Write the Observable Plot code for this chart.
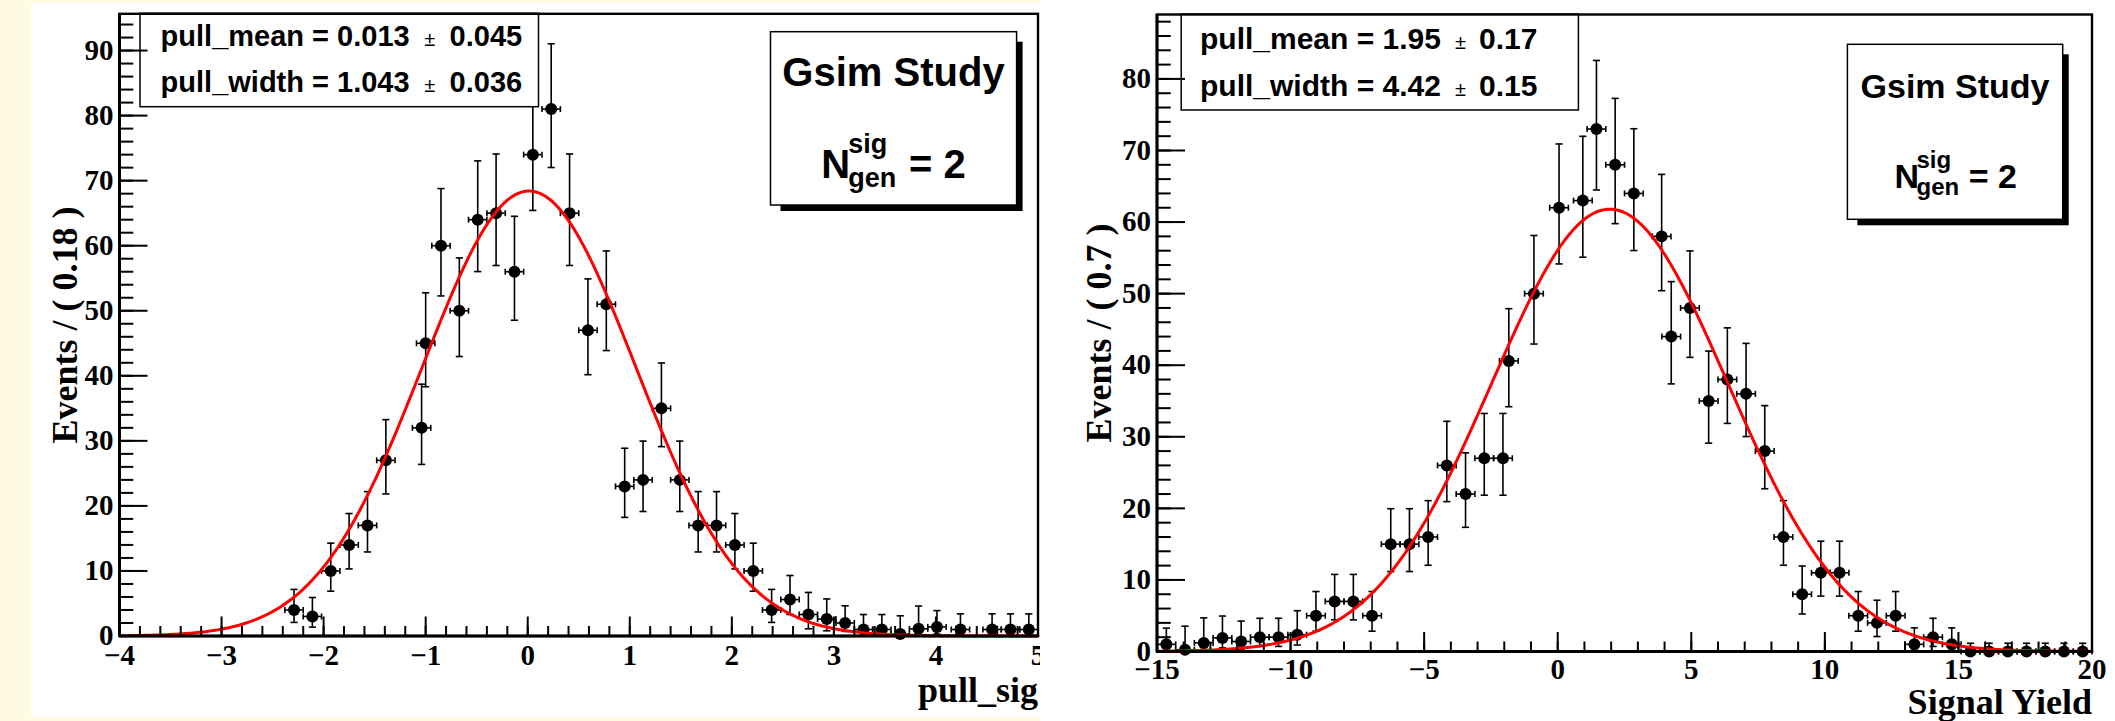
<!DOCTYPE html>
<html>
<head>
<meta charset="utf-8">
<script src="https://cdn.jsdelivr.net/npm/d3@7"></script>
<script src="https://cdn.jsdelivr.net/npm/@observablehq/plot@0.6"></script>
<style>
  html, body { margin: 0; padding: 0; }
  body { width: 2115px; height: 721px; background: #fffbe0; position: relative; overflow: hidden; }
  .panel { position: absolute; background: #ffffff; overflow: hidden; }
  .panel svg { display: block; }
</style>
</head>
<body>
<div id="pull" class="panel" style="left:31px; top:3px; width:1009px; height:714px;"></div>
<div id="yield" class="panel" style="left:1040px; top:0px; width:1075px; height:721px;"></div>
<script>
// ---------- pull_sig histogram (bin width 0.18) ----------
const pullX  = [-2.29,-2.11,-1.93,-1.75,-1.57,-1.39,-1.04,-1.0,-0.85,-0.67,
                -0.49,-0.31,-0.13,0.05,0.23,0.41,0.59,0.77,0.95,1.13,
                1.31,1.49,1.67,1.85,2.03,2.21,2.39,2.57,2.75,2.93,
                3.11,3.29,3.47,3.65,3.83,4.01,4.24,4.55,4.73,4.91];
const pullN  = [4,3,10,14,17,27,32,45,60,50,
                64,65,56,74,81,65,47,51,23,24,
                35,24,17,17,14,10,4,5.6,3.3,2.6,
                2,1,1,0.3,1.1,1.4,1,1,1,1];
const pullLo = [2.09,1.37,6.89,10.31,12.92,21.84,26.38,38.32,52.28,42.96,
                56.02,56.96,48.54,65.42,72.02,56.96,40.17,43.88,18.24,19.14,
                29.11,19.14,12.92,12.92,10.31,6.89,2.09,3.3,1.1,0.8,
                0.71,0.17,0.17,0,0.2,0.3,0.17,0.17,0.17,0.17];
const pullHi = [7.16,5.92,14.27,18.83,22.2,33.26,38.71,52.76,68.78,58.12,
                73.04,74.1,64.52,83.64,91.04,74.1,54.9,59.19,28.86,29.96,
                41.97,29.96,22.2,22.2,18.83,14.27,7.16,9.3,6.7,5.7,
                4.64,3.3,3.3,3.1,4.6,3.9,3.4,3.4,3.4,3.4];

// ---------- Signal Yield histogram (bin width 0.7) ----------
const yieldX  = [-14.65,-13.95,-13.25,-12.55,-11.85,-11.15,-10.45,-9.75,-9.05,-8.35,
                 -7.65,-6.95,-6.25,-5.55,-4.85,-4.15,-3.45,-2.75,-2.05,-1.83,
                 -0.89,0.05,0.94,1.45,2.15,2.85,3.89,4.25,4.95,5.65,
                 6.35,7.05,7.75,8.45,9.15,9.85,10.55,11.25,11.95,12.65,
                 13.35,14.05,14.75,15.45,16.15,16.85,17.55,18.25,18.95,19.65];
const yieldN  = [1,0.25,1.2,1.9,1.4,2,2,2.35,5,7,
                 7,5,15,15,16,26,22,27,27,40.6,
                 50,62,63,73,68,64,58,44,48,35,
                 38,36,28,16,8,11,11,5,4,5,
                 1,2,1,0,0,0,0,0,0,0];
const yieldLo = [0.17,0,0.3,0.5,0.3,0.71,0.71,0.9,2.84,4.42,
                 4.42,2.84,11.17,11.17,12.05,20.94,17.35,21.84,21.84,34.2,
                 42.96,54.15,55.09,64.48,59.78,56.02,50.41,37.39,41.1,29.11,
                 31.87,30.03,22.74,12.05,5.24,7.74,7.74,2.84,2.09,2.84,
                 0.17,0.71,0.17,0,0,0,0,0,0,0];
const yieldHi = [3.26,3.54,4.7,4.95,4.25,4.64,4.64,5.7,8.38,10.77,
                 10.77,8.38,19.95,19.95,21.08,32.16,27.76,33.26,33.26,47.9,
                 58.12,70.91,71.98,82.58,77.28,73.04,66.66,51.68,55.97,41.97,
                 45.22,43.05,34.35,21.08,11.94,15.41,15.41,8.38,7.16,8.38,
                 3.3,4.64,3.3,1.15,1.15,1.15,1.15,1.15,1.15,1.15];

// ---------- fit results ----------
const fitNames       = ["pull_mean", "pull_width"];
const pullFitValues  = ["0.013", "1.043"];
const pullFitErrors  = ["0.045", "0.036"];
const yieldFitValues = ["1.95", "4.42"];
const yieldFitErrors = ["0.17", "0.15"];
const fitPeaks       = [68.4, 61.8];     // fitted curve height, events per bin
const binWidths      = [0.18, 0.7];
const generatedSignal = [2, 2];

// ---------- axes ----------
const xTitles = ["pull_sig", "Signal Yield"];
const pullMajorX  = [-4,-3,-2,-1,0,1,2,3,4,5];
const pullMinorX  = d3.range(-20, 26).map(i => i / 5);
const pullMajorY  = [0,10,20,30,40,50,60,70,80,90];
const pullMinorY  = d3.range(0, 96, 2);
const yieldMajorX = [-15,-10,-5,0,5,10,15,20];
const yieldMinorX = d3.range(-15, 21, 1);
const yieldMajorY = [0,10,20,30,40,50,60,70,80];
const yieldMinorY = d3.range(0, 89, 2);

const serif = "'Liberation Serif', 'Times New Roman', Times, serif";
const sans  = "'Liberation Sans', Arial, Helvetica, sans-serif";
const minusFormat = d => (d < 0 ? "\u2212" + Math.abs(d) : String(d));

// short end caps for the error bars
const capH = {draw(ctx, size) { const w = Math.sqrt(size / Math.PI); ctx.moveTo(-w, 0); ctx.lineTo(w, 0); }};
const capV = {draw(ctx, size) { const w = Math.sqrt(size / Math.PI); ctx.moveTo(0, -w); ctx.lineTo(0, w); }};

// fit-result box and the "Gsim Study" box with its drop shadow
function notes(s, g) {
  return () => {
    const root = d3.create("svg:g");
    root.append("rect").attr("x", s.x).attr("y", s.y).attr("width", s.w).attr("height", s.h)
      .attr("fill", "white").attr("stroke", "black").attr("stroke-width", 1.5);
    s.rows.forEach((row, i) => {
      const t = root.append("text").attr("font-family", sans).attr("font-weight", "bold")
        .attr("text-anchor", "start").attr("font-size", s.size).attr("fill", "black").attr("y", s.baselines[i]);
      t.append("tspan").attr("x", s.textX).text(`${row[0]} = ${row[1]}`);
      t.append("tspan").attr("x", s.pmX).attr("font-size", s.pmSize).attr("font-weight", "normal").text("\u00b1");
      t.append("tspan").attr("x", s.errX).text(row[2]);
    });
    root.append("rect").attr("x", g.x + 10).attr("y", g.y + 10).attr("width", g.w - 4).attr("height", g.h - 4)
      .attr("fill", "black");
    root.append("rect").attr("x", g.x).attr("y", g.y).attr("width", g.w).attr("height", g.h)
      .attr("fill", "white").attr("stroke", "black").attr("stroke-width", 1.5);
    root.append("text").attr("font-family", sans).attr("font-weight", "bold").attr("font-size", g.titleSize)
      .attr("text-anchor", "middle").attr("x", g.titleX).attr("y", g.titleBase).attr("fill", "black")
      .text("Gsim Study");
    const n = root.append("text").attr("font-family", sans).attr("font-weight", "bold")
      .attr("text-anchor", "start").attr("font-size", g.size).attr("fill", "black");
    n.append("tspan").attr("x", g.nX).attr("y", g.nBase).text("N");
    n.append("tspan").attr("x", g.supX).attr("y", g.supBase).attr("font-size", g.subSize).text("sig");
    n.append("tspan").attr("x", g.supX).attr("y", g.subBase).attr("font-size", g.subSize).text("gen");
    n.append("tspan").attr("x", g.eqX).attr("y", g.nBase).text(`= ${g.value}`);
    return root.node();
  };
}

function panel(c) {
  const pts = c.xs.map((x, i) => ({x, y: c.ns[i], lo: c.los[i], hi: c.his[i]}));
  const half = c.binWidth / 2;
  const [mean, sigma] = c.fitValues.map(Number);
  const curve = d3.range(c.xDomain[0], c.xDomain[1] + c.step / 2, c.step)
    .map(x => ({x, y: c.peak * Math.exp(-0.5 * ((x - mean) / sigma) ** 2)}));
  const ink = {stroke: "black", strokeWidth: 1.6};
  const labelFont = {fontFamily: serif, fontWeight: "bold", fontSize: 29, fill: "black"};
  const titleFont = {fontFamily: serif, fontWeight: "bold", fontSize: 36, fill: "black"};
  const blank = () => "";
  return Plot.plot({
    width: c.width, height: c.height,
    marginLeft: c.margin[0], marginTop: c.margin[1], marginRight: c.margin[2], marginBottom: c.margin[3],
    x: {domain: c.xDomain, label: null},
    y: {domain: c.yDomain, label: null},
    style: {background: "white", overflow: "hidden"},
    marks: [
      Plot.ruleX(pts, {x: "x", y1: "lo", y2: "hi", ...ink}),
      Plot.dot(pts, {x: "x", y: "hi", symbol: capH, r: 3.6, fill: "none", ...ink}),
      Plot.dot(pts, {x: "x", y: "lo", symbol: capH, r: 3.6, fill: "none", ...ink}),
      Plot.ruleY(pts, {y: "y", x1: d => d.x - half, x2: d => d.x + half, ...ink}),
      Plot.dot(pts, {x: d => d.x - half, y: "y", symbol: capV, r: 3, fill: "none", ...ink}),
      Plot.dot(pts, {x: d => d.x + half, y: "y", symbol: capV, r: 3, fill: "none", ...ink}),
      Plot.dot(pts, {x: "x", y: "y", r: 6, fill: "black", stroke: "none"}),
      Plot.line(curve, {x: "x", y: "y", stroke: "#ff0000", strokeWidth: 3}),
      c.notes,
      Plot.frame({stroke: "black", strokeWidth: 2.4}),
      Plot.ruleY([0], {stroke: "black", strokeWidth: 3}),
      Plot.ruleX([c.xDomain[0]], {stroke: "black", strokeWidth: 3}),
      Plot.axisX(c.minorX, {tickSize: -c.xTick / 2, tickFormat: blank, strokeWidth: 2, label: null}),
      Plot.axisX(c.majorX, {tickSize: -c.xTick, tickFormat: blank, strokeWidth: 2, label: null}),
      Plot.axisX(c.majorX, {tickSize: 0, tickPadding: c.xPad, tickFormat: minusFormat, label: null, ...labelFont}),
      Plot.axisY(c.minorY, {tickSize: -c.yTick / 2, tickFormat: blank, strokeWidth: 2, label: null}),
      Plot.axisY(c.majorY, {tickSize: -c.yTick, tickFormat: blank, strokeWidth: 2, label: null}),
      Plot.axisY(c.majorY, {tickSize: 0, tickPadding: 6, tickFormat: minusFormat, label: null, ...labelFont}),
      Plot.text([c.xTitle], {text: d => d, frameAnchor: "bottom-right", textAnchor: "end", lineAnchor: "bottom",
        dy: c.xTitleDy, ...titleFont}),
      Plot.text([`Events / ( ${c.binWidth} )`], {text: d => d, frameAnchor: "left", rotate: -90,
        textAnchor: "middle", lineAnchor: "bottom", dx: c.yTitleDx, ...titleFont})
    ]
  });
}

const rows = (vals, errs) => fitNames.map((nm, i) => [nm, vals[i], errs[i]]);

document.getElementById("pull").append(panel({
  width: 1009, height: 714, margin: [88, 10.3, 2.5, 81.5],
  xs: pullX, ns: pullN, los: pullLo, his: pullHi,
  binWidth: binWidths[0], fitValues: pullFitValues, peak: fitPeaks[0], step: 0.02,
  xDomain: [-4, 5], yDomain: [0, 95.65],
  majorX: pullMajorX, minorX: pullMinorX, majorY: pullMajorY, minorY: pullMinorY,
  xTick: 19, yTick: 28.5, xPad: 8, xTitle: xTitles[0], xTitleDy: 66, yTitleDx: -43,
  notes: notes(
    {x: 109, y: 10.3, w: 398.5, h: 93.4, textX: 129.6, baselines: [43, 88.7], size: 29,
     pmX: 393.3, pmSize: 20, errX: 418.6, rows: rows(pullFitValues, pullFitErrors)},
    {x: 739.5, y: 28.7, w: 246.1, h: 173.3, titleX: 862.5, titleBase: 83, titleSize: 40,
     nX: 790.2, nBase: 175.3, size: 40, supX: 817.2, supBase: 150.3, subBase: 183.7, subSize: 27,
     eqX: 878, value: generatedSignal[0]})
}));

document.getElementById("yield").append(panel({
  width: 1075, height: 721, margin: [116.5, 14, 23.5, 70],
  xs: yieldX, ns: yieldN, los: yieldLo, his: yieldHi,
  binWidth: binWidths[1], fitValues: yieldFitValues, peak: fitPeaks[1], step: 0.05,
  xDomain: [-15, 20], yDomain: [0, 89.0],
  majorX: yieldMajorX, minorX: yieldMinorX, majorY: yieldMajorY, minorY: yieldMinorY,
  xTick: 19, yTick: 28.5, xPad: 6.5, xTitle: xTitles[1], xTitleDy: 62.5, yTitleDx: -46.5,
  notes: notes(
    {x: 141.2, y: 14, w: 397.2, h: 96, textX: 160, baselines: [49.3, 95.7], size: 30,
     pmX: 415, pmSize: 20, errX: 439, rows: rows(yieldFitValues, yieldFitErrors)},
    {x: 807.4, y: 44.3, w: 215.3, h: 175, titleX: 915, titleBase: 98.3, titleSize: 34,
     nX: 854.5, nBase: 188.3, size: 34, supX: 876.5, supBase: 168.3, subBase: 195, subSize: 24,
     eqX: 928.8, value: generatedSignal[1]})
}));
</script>
</body>
</html>
